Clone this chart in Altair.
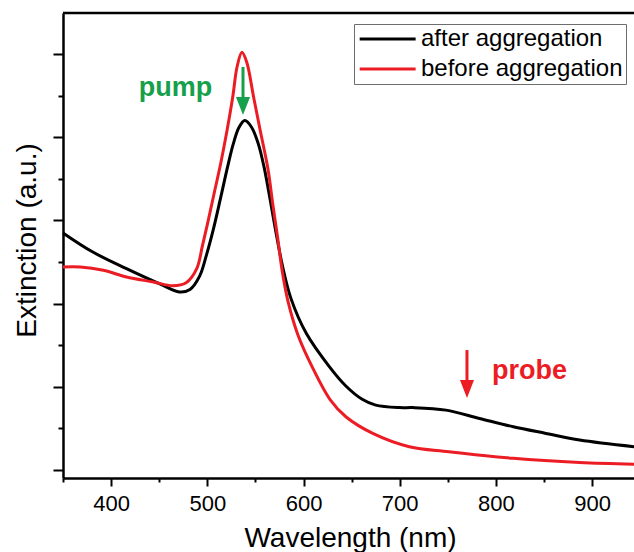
import altair as alt
import pandas as pd

# ---- data ----
wl_after = [350, 381, 416, 450, 471, 482, 492, 499, 506, 514, 521, 527, 533, 539, 546, 553, 559,
            565, 571, 578, 587, 603, 627, 644, 661, 675, 700, 714, 748, 783, 818, 852, 887, 944]
ext_after = [2.85, 2.62, 2.42, 2.24, 2.14, 2.17, 2.33, 2.58, 2.88, 3.28, 3.64, 3.92, 4.12, 4.20, 4.12, 3.92, 3.64,
             3.27, 2.88, 2.46, 2.06, 1.64, 1.24, 1.01, 0.85, 0.78, 0.75, 0.75, 0.72, 0.62, 0.52, 0.44, 0.36, 0.28]

wl_before = [350, 368, 392, 416, 444, 464, 478, 489, 495, 500, 507, 514, 520, 526.5, 531, 536, 541,
             548, 555, 563, 568, 573, 578, 584, 594, 609, 628, 644, 672, 710, 751, 818, 887, 944]
ext_before = [2.44, 2.44, 2.40, 2.32, 2.26, 2.215, 2.25, 2.42, 2.70, 2.95, 3.32, 3.69, 4.05, 4.49, 4.85, 5.02, 4.90,
              4.49, 4.08, 3.62, 3.20, 2.80, 2.38, 2.02, 1.63, 1.24, 0.84, 0.64, 0.44, 0.28, 0.22, 0.14, 0.09, 0.07]

series_names = ["after aggregation", "before aggregation"]
series_colors = ["#000000", "#ec1c24"]

x_tick_values = [350, 400, 450, 500, 550, 600, 650, 700, 750, 800, 850, 900]
y_tick_values = [0, 0.5, 1, 1.5, 2, 2.5, 3, 3.5, 4, 4.5, 5]
x_domain = [350, 943.5]
y_domain = [-0.096, 5.493]

# annotations: pump (green) and probe (red)
ann_text = ["pump", "probe"]
ann_text_x = [466.9, 795.9]
ann_text_y = [4.49, 1.088]
ann_align = ["center", "left"]
ann_color = ["#16a04b", "#ec1c24"]
arrow_x = [537.1, 769.9]
arrow_top = [4.844, 1.442]
arrow_shaft_end = [4.45, 1.02]
arrow_head = [4.375, 0.974]

FONT = "Liberation Sans"
W, H = 571, 465

curves = pd.concat([
    pd.DataFrame({"wavelength": wl_after, "extinction": ext_after, "series": series_names[0]}),
    pd.DataFrame({"wavelength": wl_before, "extinction": ext_before, "series": series_names[1]}),
])

xscale = alt.Scale(domain=x_domain, nice=False, zero=False)
yscale = alt.Scale(domain=y_domain, nice=False, zero=False)

x_axis = alt.Axis(
    values=x_tick_values,
    labelExpr="datum.value % 100 === 0 ? datum.label : ''",
    tickSize={"condition": {"test": "datum.value % 100 === 0", "value": 8}, "value": 4},
    tickWidth=2, tickColor="black", domainColor="black", domainWidth=2.5,
    labelFontSize=22, labelFont=FONT, labelColor="black", labelPadding=7,
    grid=False, title="Wavelength (nm)", titleFontSize=28, titleFont=FONT,
    titleFontWeight="normal", titleColor="black", titleX=287, titleY=68,
    titleBaseline="alphabetic", titleAlign="center", labelFlush=False, labelOverlap=False,
)
y_axis = alt.Axis(
    values=y_tick_values, labels=False,
    tickSize={"condition": {"test": "datum.value % 1 === 0", "value": 10}, "value": 5},
    tickWidth=2, tickColor="black", domainColor="black", domainWidth=2.5,
    grid=False, title="Extinction (a.u.)", titleFontSize=28, titleFont=FONT,
    titleFontWeight="normal", titleColor="black", titleX=-28, titleY=227,
    titleBaseline="alphabetic", titleAlign="center", titleAngle=270,
)

lines = alt.Chart(curves).mark_line(strokeWidth=3, interpolate="catmull-rom").encode(
    x=alt.X("wavelength:Q", scale=xscale, axis=x_axis),
    y=alt.Y("extinction:Q", scale=yscale, axis=y_axis),
    color=alt.Color(
        "series:N",
        scale=alt.Scale(domain=series_names, range=series_colors),
        legend=alt.Legend(
            title=None, orient="none", legendX=291, legendY=11,
            padding=3, strokeColor="#6d6d6d", fillColor="white",
            labelFontSize=24, labelFont=FONT, labelColor="black",
            labelExpr="datum.label + ' '",
            symbolType="M-1,0L5,0", symbolSize=348, symbolStrokeWidth=3,
            labelOffset=40, rowPadding=6, labelLimit=400,
        ),
    ),
)

top_line = alt.Chart(pd.DataFrame({"a": [0]})).mark_rule(color="black", strokeWidth=2.5).encode(
    x=alt.value(0), x2=alt.value(W), y=alt.value(0)
)

layers = [lines, top_line]
for i in range(len(ann_text)):
    d = pd.DataFrame({
        "x": [arrow_x[i]], "top": [arrow_top[i]], "end": [arrow_shaft_end[i]],
        "head": [arrow_head[i]], "tx": [ann_text_x[i]], "ty": [ann_text_y[i]], "t": [ann_text[i]],
    })
    base = alt.Chart(d)
    shaft = base.mark_rule(color=ann_color[i], strokeWidth=3).encode(
        x=alt.X("x:Q", scale=xscale), y=alt.Y("top:Q", scale=yscale), y2="end:Q"
    )
    head = base.mark_point(
        shape="M-0.78,-1L0.78,-1L0,1Z", size=324, filled=True, opacity=1,
        color=ann_color[i], strokeWidth=0,
    ).encode(x=alt.X("x:Q", scale=xscale), y=alt.Y("head:Q", scale=yscale))
    label = base.mark_text(
        font=FONT, fontSize=27, fontWeight="bold", color=ann_color[i],
        align=ann_align[i], baseline="alphabetic",
    ).encode(x=alt.X("tx:Q", scale=xscale), y=alt.Y("ty:Q", scale=yscale), text="t:N")
    layers += [shaft, head, label]

chart = alt.layer(*layers).properties(
    width=W, height=H,
    autosize="none",
    padding={"left": 63, "top": 13, "right": 0, "bottom": 74},
    background="white",
).configure_view(stroke=None)

chart.save("out.html", embed_options={"renderer": "svg", "actions": False})
